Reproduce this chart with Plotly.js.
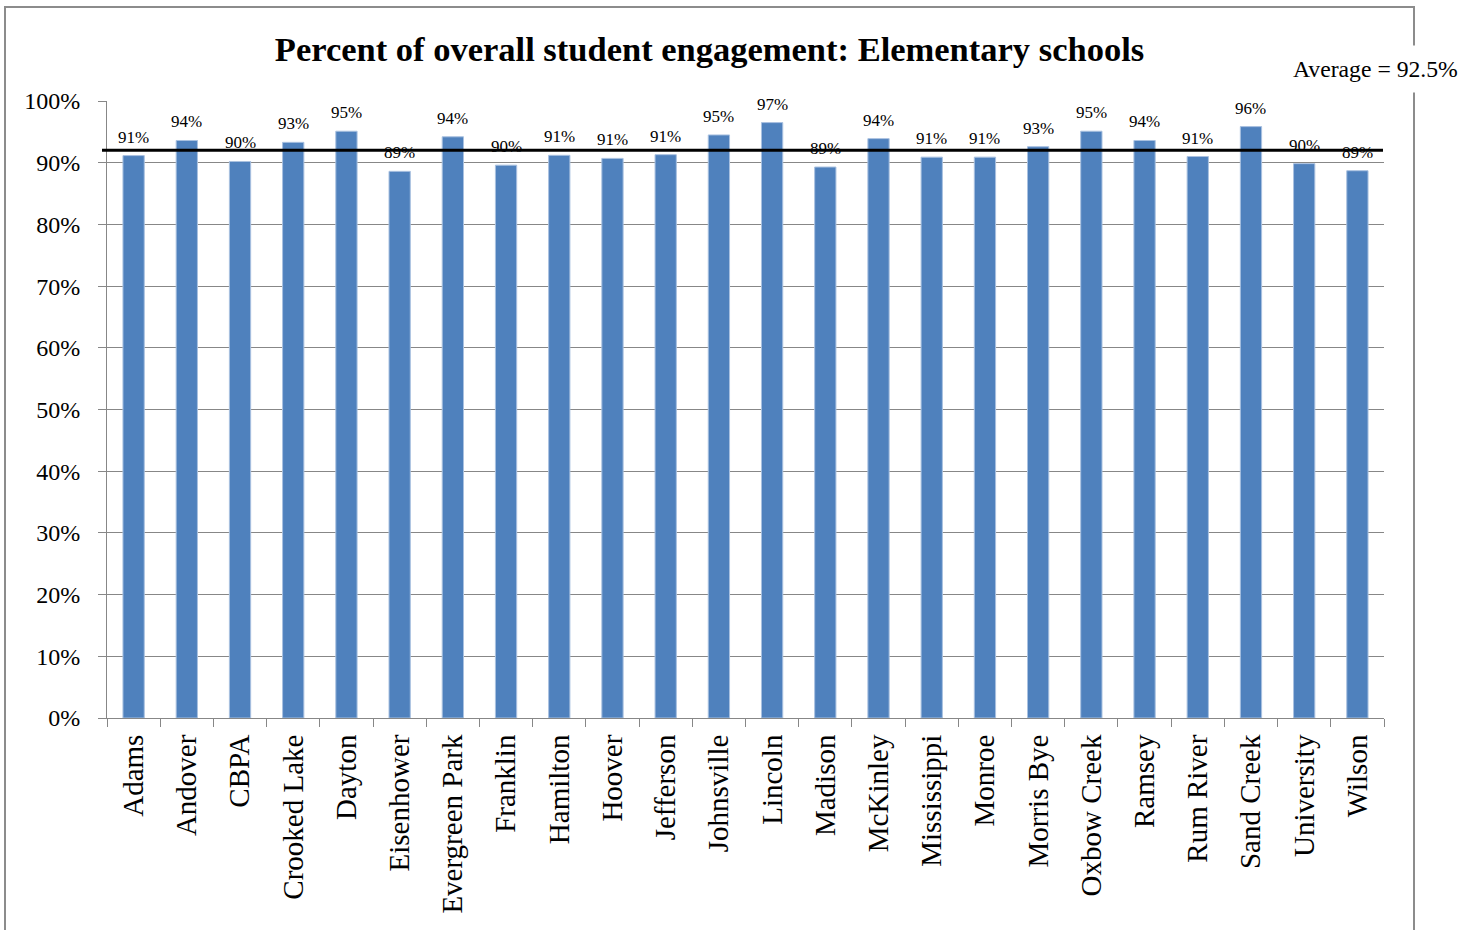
<!DOCTYPE html>
<html>
<head>
<meta charset="utf-8">
<script src="https://cdn.plot.ly/plotly-3.0.1.min.js"></script>
<style>
  html, body { margin: 0; padding: 0; background: #ffffff; }
  #chart { width: 1477px; height: 930px; }
</style>
</head>
<body>
<div id="chart"></div>
<script>
const schools = ["Adams", "Andover", "CBPA", "Crooked Lake", "Dayton", "Eisenhower",
  "Evergreen Park", "Franklin", "Hamilton", "Hoover", "Jefferson", "Johnsville",
  "Lincoln", "Madison", "McKinley", "Mississippi", "Monroe", "Morris Bye",
  "Oxbow Creek", "Ramsey", "Rum River", "Sand Creek", "University", "Wilson"];
const engagement = [91.15, 93.6, 90.2, 93.3, 95.1, 88.6,
  94.2, 89.6, 91.2, 90.7, 91.3, 94.5,
  96.5, 89.3, 93.9, 90.9, 90.9, 92.6,
  95.1, 93.6, 91.0, 95.85, 89.85, 88.7];
const averageLine = 92.0;
const averageLabel = "Average = 92.5%";
const titleText = "Percent of overall student engagement: Elementary schools";
const yTicks = [0, 10, 20, 30, 40, 50, 60, 70, 80, 90, 100];

const FONT = "'Liberation Serif', 'Times New Roman', serif";
const L = 107, R = 93, T = 101, B = 212;
const W = 1477, H = 930;
const pw = W - L - R, ph = H - T - B;
const px = v => (v - L) / pw;
const py = v => (H - B - v) / ph;

const trace = {
  type: "bar",
  x: schools,
  y: engagement,
  marker: { color: "#4f81bd", line: { color: "#a9c1e0", width: 1 } },
  hoverinfo: "x+y"
};

const labels = schools.map((s, i) => ({
  x: s, y: engagement[i], xref: "x", yref: "y",
  text: Math.round(engagement[i]) + "%",
  showarrow: false, yanchor: "bottom", yshift: 7,
  font: { family: FONT, size: 17, color: "#000" }
}));

labels.push({
  xref: "paper", yref: "paper",
  x: px(1282), y: py(69), xanchor: "left", yanchor: "middle",
  text: averageLabel, showarrow: false, bgcolor: "#ffffff", borderpad: 10,
  font: { family: FONT, size: 23.7, color: "#000" }
});

const layout = {
  width: W, height: H,
  margin: { l: L, r: R, t: T, b: B },
  paper_bgcolor: "#ffffff", plot_bgcolor: "#ffffff",
  showlegend: false,
  bargap: 0.6,
  title: {
    text: "<b>" + titleText + "</b>",
    x: 709.5 / W, xref: "container", xanchor: "center",
    y: 1 - 49 / H, yref: "container", yanchor: "middle",
    font: { family: FONT, size: 34.5, color: "#000" }
  },
  xaxis: {
    type: "category",
    tickangle: -90,
    tickson: "boundaries",
    ticks: "outside", ticklen: 8, tickcolor: "#878787", tickwidth: 1,
    showline: true, linecolor: "#878787", linewidth: 1,
    showgrid: false,
    tickfont: { family: FONT, size: 29, color: "#000" },
    ticklabelstandoff: 4
  },
  yaxis: {
    range: [0, 100],
    tickvals: yTicks,
    ticktext: yTicks.map(v => v + "%"),
    ticks: "outside", ticklen: 8, tickcolor: "#878787", tickwidth: 1,
    showline: true, linecolor: "#878787", linewidth: 1,
    showgrid: true, gridcolor: "#878787", gridwidth: 1,
    zeroline: false,
    tickfont: { family: FONT, size: 24, color: "#000" },
    ticklabelstandoff: 13
  },
  shapes: [
    {
      type: "rect", xref: "paper", yref: "paper",
      x0: px(5), x1: px(1414), y0: py(945), y1: py(7),
      line: { color: "#8c8c8c", width: 2 }, fillcolor: "rgba(0,0,0,0)",
      layer: "below"
    },
    {
      type: "line", xref: "paper", yref: "y",
      x0: px(102), x1: px(1383), y0: averageLine, y1: averageLine,
      line: { color: "#000000", width: 3 }, layer: "above"
    }
  ],
  annotations: labels
};

Plotly.newPlot("chart", [trace], layout, { displayModeBar: false, staticPlot: true });
</script>
</body>
</html>
